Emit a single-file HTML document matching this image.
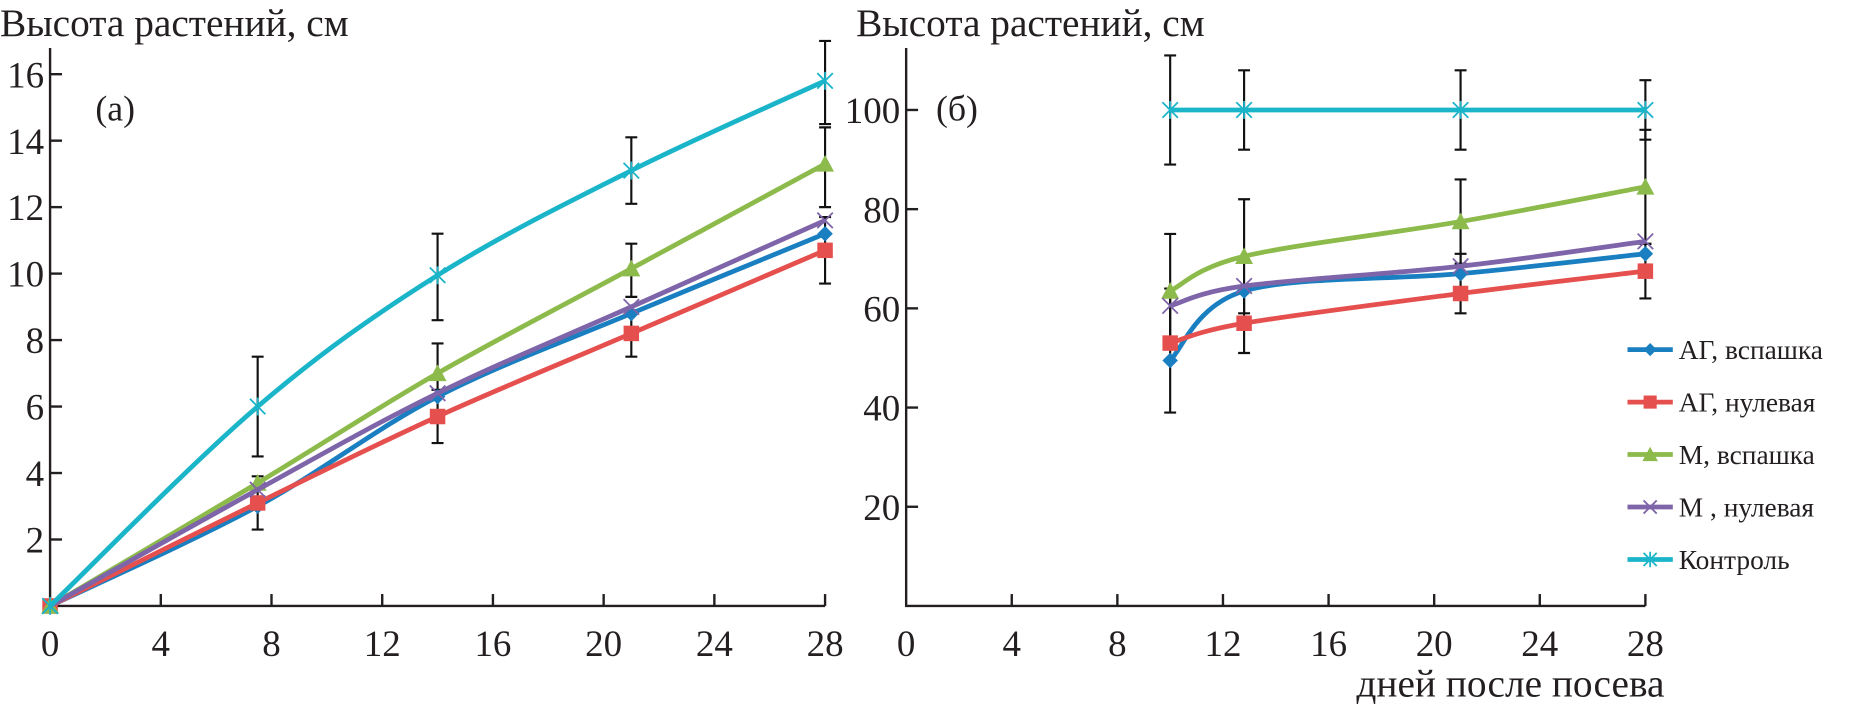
<!DOCTYPE html>
<html><head><meta charset="utf-8">
<style>
html,body{margin:0;padding:0;background:#fff;}
svg{display:block;}
text{font-family:"Liberation Serif",serif;fill:#231f20;}
</style></head>
<body>
<svg id="chart" width="1860" height="704" viewBox="0 0 1560 590" xmlns="http://www.w3.org/2000/svg"></svg>
<script>
// ---- data ----
const seriesNames = ["АГ, вспашка", "АГ, нулевая", "М, вспашка", "М , нулевая", "Контроль"];
const seriesKeys = ["ag-plow", "ag-notill", "m-plow", "m-notill", "control"];
const seriesColors = ["#1a7fc1", "#e5504f", "#8cba4b", "#7e64a8", "#1bb5c9"];
const seriesMarkers = ["diamond", "square", "triangle", "cross", "star"];

const leftDays = [0, 7.5, 14, 21, 28];
const leftAgPlow = [0, 3.0, 6.3, 8.8, 11.2];
const leftAgNotill = [0, 3.1, 5.7, 8.2, 10.7];
const leftMPlow = [0, 3.7, 7.0, 10.15, 13.3];
const leftMNotill = [0, 3.5, 6.4, 9.0, 11.6];
const leftControl = [0, 6.0, 9.95, 13.1, 15.8];
const leftErrDays = [7.5, 7.5, 14, 14, 14, 21, 21, 21, 28, 28, 28];
const leftErrLow = [2.3, 4.5, 4.9, 6.5, 8.6, 7.5, 9.3, 12.1, 9.7, 12.0, 14.5];
const leftErrHigh = [3.9, 7.5, 6.5, 7.9, 11.2, 8.9, 10.9, 14.1, 11.7, 14.4, 17.0];
const leftYTicks = [2, 4, 6, 8, 10, 12, 14, 16];

const rightDays = [10, 12.8, 21, 28];
const rightAgPlow = [49.5, 63.5, 67, 71];
const rightAgNotill = [53, 57, 63, 67.5];
const rightMPlow = [63.5, 70.5, 77.5, 84.5];
const rightMNotill = [60.5, 64.5, 68.5, 73.5];
const rightControl = [100, 100, 100, 100];
const rightErrDays = [10, 10, 10, 12.8, 12.8, 12.8, 21, 21, 21, 28, 28, 28];
const rightErrLow = [39, 52, 89, 51, 59, 92, 59, 69, 92, 62, 73, 94];
const rightErrHigh = [64, 75, 111, 64, 82, 108, 71, 86, 108, 73, 96, 106];
const rightYTicks = [20, 40, 60, 80, 100];

const xTicks = [0, 4, 8, 12, 16, 20, 24, 28];

// ---- drawing ----
const svg = document.getElementById('chart');
const NS = 'http://www.w3.org/2000/svg';
function mk(tag, attrs, parent) {
  const e = document.createElementNS(NS, tag);
  for (const k in attrs) e.setAttribute(k, attrs[k]);
  (parent || svg).appendChild(e);
  return e;
}
function smoothPath(pts) {
  let d = 'M' + pts[0][0] + ',' + pts[0][1];
  for (let i = 0; i < pts.length - 1; i++) {
    const p0 = pts[i - 1] || pts[i], p1 = pts[i], p2 = pts[i + 1], p3 = pts[i + 2] || p2;
    const t = 1 / 6;
    const c1 = [p1[0] + (p2[0] - p0[0]) * t, p1[1] + (p2[1] - p0[1]) * t];
    const c2 = [p2[0] - (p3[0] - p1[0]) * t, p2[1] - (p3[1] - p1[1]) * t];
    d += ' C' + c1[0] + ',' + c1[1] + ' ' + c2[0] + ',' + c2[1] + ' ' + p2[0] + ',' + p2[1];
  }
  return d;
}
function marker(type, x, y, color, g, s) {
  s = s || 6.5;
  let e;
  if (type === 'diamond') e = mk('polygon', {points: `${x},${y-s} ${x+s},${y} ${x},${y+s} ${x-s},${y}`, fill: color}, g);
  else if (type === 'square') e = mk('rect', {x: x-s, y: y-s, width: 2*s, height: 2*s, fill: color}, g);
  else if (type === 'triangle') e = mk('polygon', {points: `${x},${y-s-1} ${x+s+1},${y+s} ${x-s-1},${y+s}`, fill: color}, g);
  else if (type === 'cross') e = mk('path', {d: `M${x-s},${y-s}L${x+s},${y+s}M${x-s},${y+s}L${x+s},${y-s}`, stroke: color, 'stroke-width': 1.5, fill: 'none'}, g);
  else e = mk('path', {d: `M${x-s},${y-s}L${x+s},${y+s}M${x-s},${y+s}L${x+s},${y-s}M${x},${y-s-1}L${x},${y+s+1}`, stroke: color, 'stroke-width': 1.5, fill: 'none'}, g);
  return e;
}

function panel(cfg) {
  const {x0, x1, y0, yTop, ymax, axisTop, yTicks, days, series, errDays, errLow, errHigh, name, tag, tagX, titleX, legend} = cfg;
  const g = mk('g', {});
  
  
  const X = d => x0 + (x1 - x0) * d / 28;
  const Y = v => y0 - (y0 - yTop) * v / ymax;
  const ax = mk('path', {d: `M${x0},${axisTop}L${x0},${y0}L${x1},${y0}`, stroke: '#231f20', 'stroke-width': 2, fill: 'none'}, g);
  
  
  xTicks.forEach(t => {
    if (t > 0) mk('line', {x1: X(t), x2: X(t), y1: y0, y2: y0 - 10, stroke: '#231f20', 'stroke-width': 2}, g);
    const lbl = mk('text', {x: X(t), y: y0 + 42, 'text-anchor': 'middle', 'font-size': 31}, g);
    lbl.textContent = t;
    
    
  });
  yTicks.forEach(t => {
    mk('line', {x1: x0, x2: x0 + 10, y1: Y(t), y2: Y(t), stroke: '#231f20', 'stroke-width': 2}, g);
    const lbl = mk('text', {x: x0 - 5, y: Y(t) + 11, 'text-anchor': 'end', 'font-size': 31}, g);
    lbl.textContent = t;
    
    
  });
  const title = mk('text', {x: titleX, y: 30, 'font-size': 33}, g);
  title.textContent = 'Высота растений, см';
  
  
  const tg = mk('text', {x: tagX, y: 101, 'font-size': 30}, g);
  tg.textContent = tag;
  
  
  errDays.forEach((d, i) => {
    const eb = mk('path', {d: `M${X(d)},${Y(errLow[i])}L${X(d)},${Y(errHigh[i])}M${X(d)-5},${Y(errLow[i])}L${X(d)+5},${Y(errLow[i])}M${X(d)-5},${Y(errHigh[i])}L${X(d)+5},${Y(errHigh[i])}`, stroke: '#111', 'stroke-width': 1.8, fill: 'none'}, g);
    
    
  });
  series.forEach((vals, si) => {
    const pts = vals.map((v, i) => [X(days[i]), Y(v)]);
    const sg = mk('g', {}, g);
    
    
    const line = mk('path', {d: smoothPath(pts), stroke: seriesColors[si], 'stroke-width': 4, fill: 'none'}, sg);
    
    
    pts.forEach(p => {
      const m = marker(seriesMarkers[si], p[0], p[1], seriesColors[si], sg);
      
      
    });
  });
  if (legend) {
    const lg = mk('g', {}, g);
    
    
    seriesNames.forEach((n, i) => {
      const y = 293 + i * 44;
      const eg = mk('g', {}, lg);
      
      
      mk('line', {x1: 1365, x2: 1403, y1: y, y2: y, stroke: seriesColors[i], 'stroke-width': 4}, eg);
      marker(seriesMarkers[i], 1384, y, seriesColors[i], eg, 5.5);
      const t = mk('text', {x: 1408, y: y + 8, 'font-size': 23}, eg);
      t.textContent = n;
    });
    const xt = mk('text', {x: 1396, y: 584, 'text-anchor': 'end', 'font-size': 33}, g);
    xt.textContent = 'дней после посева';
    
    
  }
}

panel({x0: 42, x1: 692, y0: 508, yTop: 62, ymax: 16, axisTop: 40, yTicks: leftYTicks, days: leftDays,
  series: [leftAgPlow, leftAgNotill, leftMPlow, leftMNotill, leftControl],
  errDays: leftErrDays, errLow: leftErrLow, errHigh: leftErrHigh,
  name: 'panel-a', tag: '(а)', tagX: 80, titleX: 0, legend: false});
panel({x0: 760, x1: 1380, y0: 508, yTop: 92, ymax: 100, axisTop: 40, yTicks: rightYTicks, days: rightDays,
  series: [rightAgPlow, rightAgNotill, rightMPlow, rightMNotill, rightControl],
  errDays: rightErrDays, errLow: rightErrLow, errHigh: rightErrHigh,
  name: 'panel-b', tag: '(б)', tagX: 785, titleX: 718, legend: true});
</script>
</body></html>
